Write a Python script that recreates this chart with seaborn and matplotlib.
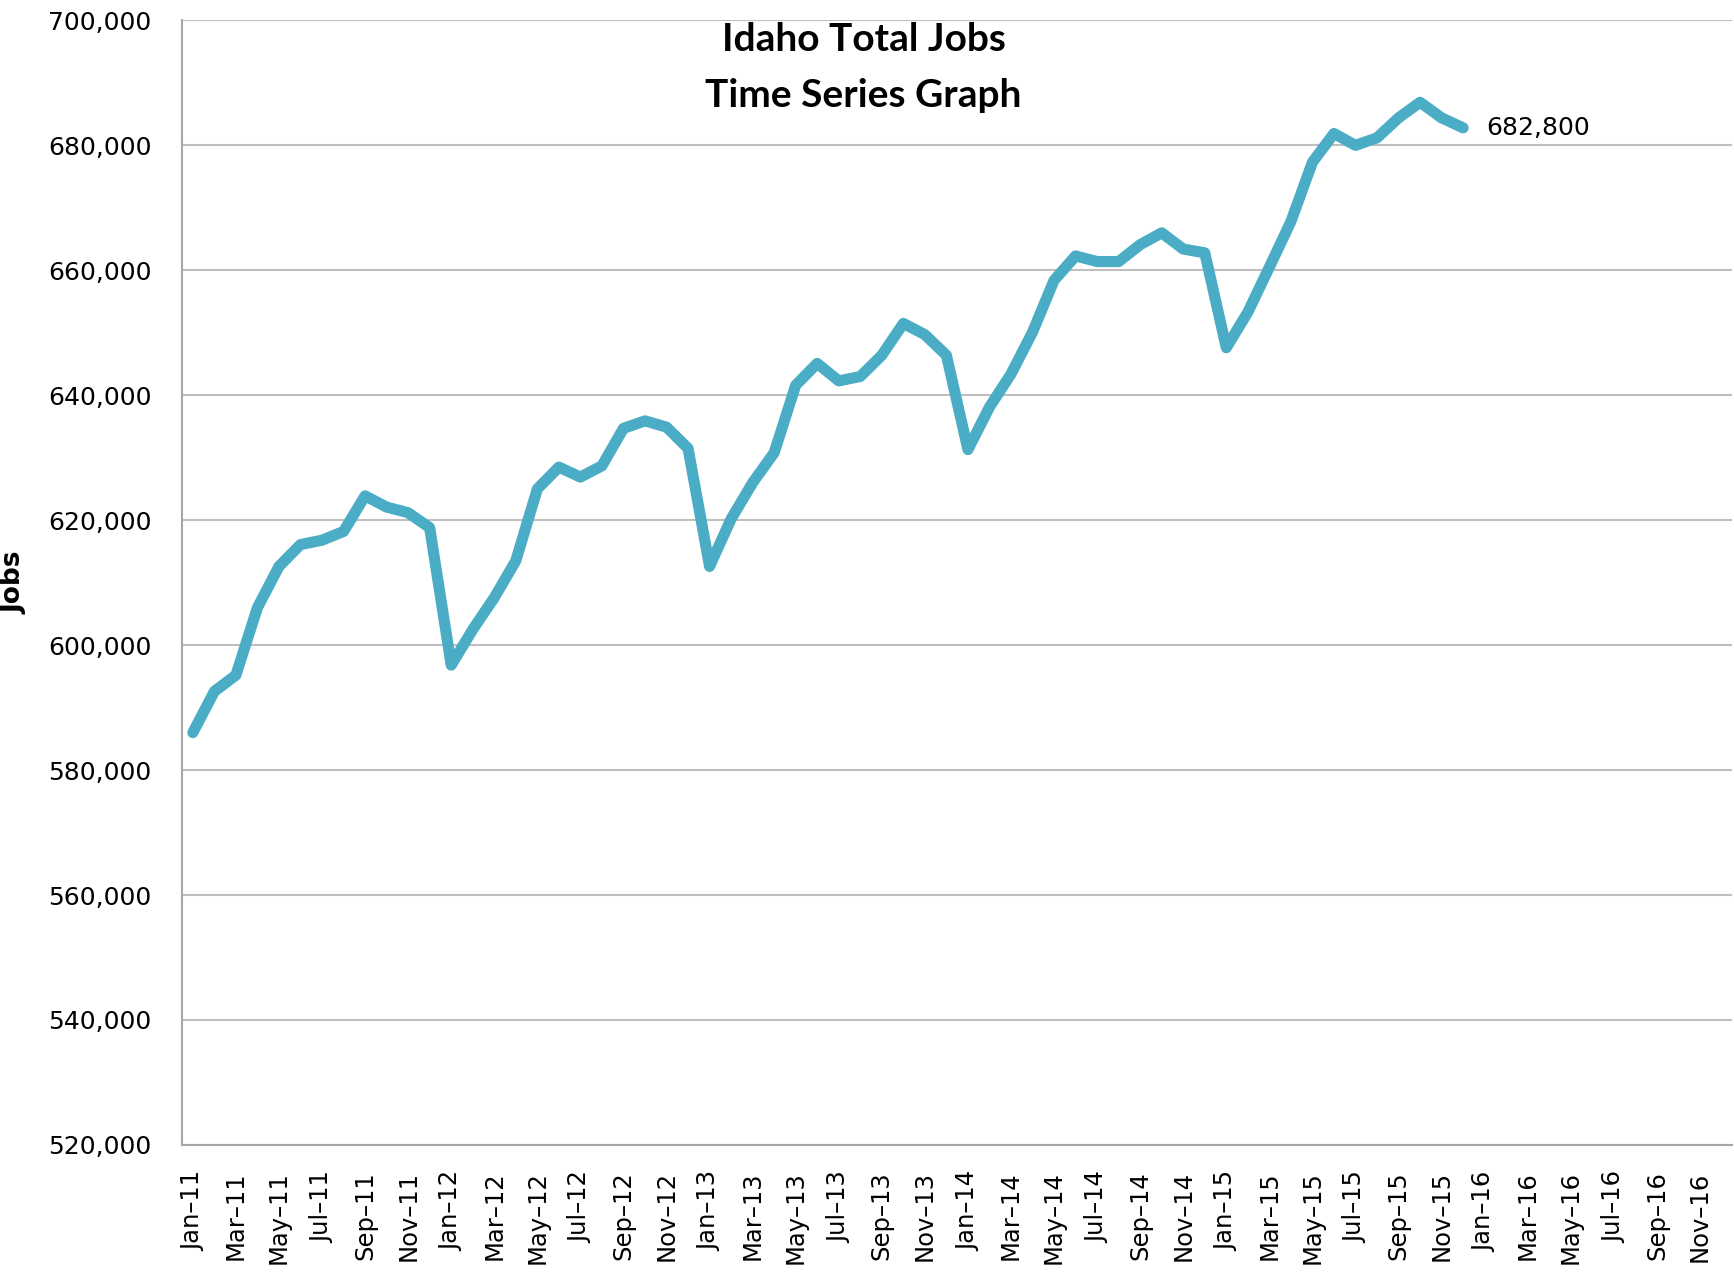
import matplotlib
matplotlib.use('Agg')
import matplotlib.pyplot as plt
import numpy as np
import pandas as pd
import seaborn as sns

# month names on the axis (Jan-11 .. Dec-16), data runs Jan-11 .. Dec-15
month_names = ['Jan', 'Feb', 'Mar', 'Apr', 'May', 'Jun',
               'Jul', 'Aug', 'Sep', 'Oct', 'Nov', 'Dec']
years = ['11', '12', '13', '14', '15', '16']
axis_months = [m + '\u2013' + y for y in years for m in month_names]

jobs_2011 = [586000, 592600, 595200, 606000, 612600, 616100,
             616800, 618200, 623900, 622100, 621200, 618800]
jobs_2012 = [596800, 602500, 607600, 613500, 625000, 628500,
             626900, 628700, 634700, 635900, 634900, 631500]
jobs_2013 = [612600, 620200, 626000, 630800, 641600, 645100,
             642300, 643000, 646400, 651500, 649700, 646400]
jobs_2014 = [631300, 638100, 643400, 650100, 658400, 662300,
             661400, 661400, 664100, 666000, 663400, 662800]
jobs_2015 = [647600, 653300, 660500, 667800, 677300, 681900,
             680000, 681200, 684400, 686900, 684400, 682800]

jobs = jobs_2011 + jobs_2012 + jobs_2013 + jobs_2014 + jobs_2015
df = pd.DataFrame({'month': axis_months[:len(jobs)], 'jobs': jobs})
df['idx'] = range(len(df))

sns.set_style('white')
plt.rcParams['font.family'] = ['DejaVu Sans']
plt.rcParams['text.color'] = 'black'
plt.rcParams['xtick.color'] = 'black'
plt.rcParams['ytick.color'] = 'black'
plt.rcParams['axes.labelcolor'] = 'black'

fig = plt.figure(figsize=(17.34, 12.75), dpi=100)
ax = fig.add_axes([0.105, 0.102, 0.894, 0.882])

line_color = '#4BACC6'
sns.lineplot(data=df, x='idx', y='jobs', ax=ax, color=line_color,
             linewidth=8, solid_capstyle='round', solid_joinstyle='round')

ax.set_xlim(-0.5, len(axis_months) - 0.5)
ax.set_ylim(520000, 700000)
ax.set_yticks(np.arange(520000, 700001, 20000))
ax.set_yticklabels(['{:,}'.format(v) for v in range(520000, 700001, 20000)],
                   fontsize=18)
ax.set_xticks(range(0, len(axis_months), 2))
ax.set_xticklabels(axis_months[::2], rotation=90, fontsize=17.5)
ax.tick_params(axis='y', length=0, pad=22)
ax.tick_params(axis='x', length=0, pad=19)

ax.yaxis.grid(True, color='#bfbfbf', linewidth=1.5)
ax.set_axisbelow(True)
for side in ['top', 'right']:
    ax.spines[side].set_visible(False)
for side in ['left', 'bottom']:
    ax.spines[side].set_color('#a6a6a6')
    ax.spines[side].set_linewidth(1.5)

ax.set_xlabel('')
ax.set_ylabel('Jobs', fontsize=19, fontweight='bold')
ax.yaxis.set_label_coords(-0.1, 0.5)

last = df.iloc[-1]
ax.annotate('{:,}'.format(last['jobs']), xy=(last['idx'], last['jobs']),
            xytext=(17, 0), textcoords='offset points', va='center',
            fontsize=18)

fig.text(0.498, 0.969, 'Idaho Total Jobs', ha='center', va='center',
         fontsize=28, fontweight='bold', family=['Lato', 'DejaVu Sans'])
fig.text(0.498, 0.925, 'Time Series Graph', ha='center', va='center',
         fontsize=28, fontweight='bold', family=['Lato', 'DejaVu Sans'])

fig.savefig('out.png', dpi=100)
